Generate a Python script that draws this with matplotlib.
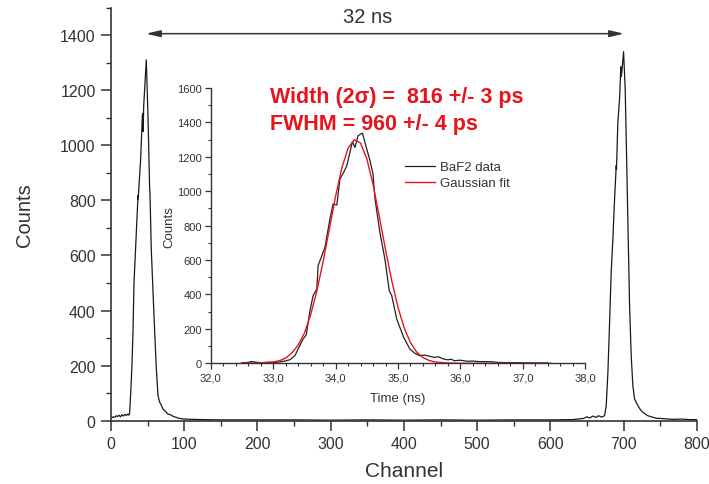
import matplotlib
matplotlib.use("Agg")
import matplotlib.pyplot as plt
from matplotlib.ticker import MultipleLocator, FuncFormatter

plt.rcParams["font.family"] = ["Liberation Sans", "DejaVu Sans"]

INK = "#333333"
TRACE = "#1a1a1a"
RED = "#E8141C"

# ---- main spectrum (channel, counts) ----
channel = [1, 3, 5, 7, 9, 11, 13, 15, 17, 19, 21, 23, 24.5, 25.5, 26.5, 27.8, 28.7, 30,
           31.4, 34.6, 36.9, 37.1, 40.5, 42.8, 43.6, 43.9, 44.6, 48.2, 50.5, 52.8, 53.2,
           55, 58.7, 61.9, 64.2, 66.5, 69, 71, 74, 77.8, 81, 84.7, 89, 93.8, 100.6, 110,
           125, 150, 200, 250, 300, 350, 400, 450, 500, 550, 600, 630, 645, 650, 654,
           658, 662, 666, 670, 674, 676.3, 678.6, 680.9, 683.1, 685.4, 687.7, 690, 690.3,
           692.2, 694.5, 696.3, 696.7, 697.5, 700, 702.2, 704.1, 705.9, 708.2, 710.4,
           712.7, 715, 719.6, 723, 726.4, 733.2, 738, 744.6, 752, 760.5, 770, 778.7, 790, 800]
counts = [10, 14, 12, 18, 15, 20, 14, 22, 17, 23, 19, 24, 20, 28, 80, 150, 210, 320,
          500, 684, 817, 805, 950, 1107, 1115, 1050, 1140, 1310, 1107, 841, 828,
          623, 381, 188, 91, 67, 55, 42, 35, 24, 22, 16, 12, 8, 6, 5,
          4, 3, 3, 3, 2, 3, 2, 3, 2, 3, 3, 4, 8, 14, 10,
          17, 12, 18, 13, 18, 54, 176, 357, 539, 660, 805, 926, 912,
          1083, 1168, 1285, 1250, 1262, 1340, 1204, 962, 720, 417, 236,
          127, 79, 54, 40, 30, 18, 14, 9, 8, 6, 5, 6, 4, 4]

# ---- inset: BaF2 data (time in ns, counts) ----
t_data = [32.5, 32.6, 32.65, 32.7, 32.8, 32.9, 33.0, 33.1, 33.2, 33.27, 33.35, 33.40,
          33.48, 33.53, 33.59, 33.64, 33.70, 33.72, 33.80, 33.83, 33.91, 33.96, 34.02,
          34.07, 34.13, 34.18, 34.23, 34.27, 34.31, 34.36, 34.43, 34.50, 34.55, 34.60,
          34.63, 34.71, 34.79, 34.86, 34.90, 34.98, 35.09, 35.19, 35.27, 35.35, 35.42,
          35.51, 35.58, 35.65, 35.72, 35.80, 35.85, 35.90, 36.0, 36.1, 36.2, 36.3, 36.5,
          36.6, 36.8, 37.0, 37.2, 37.4]
c_data = [3, 5, 10, 8, 3, 6, 4, 8, 14, 21, 45, 83,
          141, 165, 306, 393, 432, 567, 645, 674, 839, 926, 920,
          1071, 1110, 1148, 1226, 1288, 1255, 1323, 1338, 1245, 1180, 1100,
          960, 761, 606, 422, 393, 257, 151, 83, 58, 44, 48,
          41, 34, 38, 26, 20, 24, 15, 18, 12, 13, 10, 9,
          5, 4, 3, 2, 2]

# ---- inset: Gaussian fit ----
t_fit = [32.5, 32.8, 33.0, 33.1, 33.2, 33.3, 33.4, 33.5, 33.6, 33.7, 33.8, 33.9, 34.0,
         34.1, 34.2, 34.3, 34.4, 34.5, 34.6, 34.7, 34.8, 34.9, 35.0, 35.1, 35.2, 35.3,
         35.4, 35.5, 35.6, 35.8, 36.0, 37.45]
c_fit = [0, 2, 8, 15, 30, 60, 105, 175, 280, 420, 590, 780, 970,
         1135, 1250, 1300, 1280, 1190, 1040, 855, 660, 480, 325, 205, 120, 65,
         33, 16, 7, 2, 0, 0]

fig = plt.figure(figsize=(7.09, 4.85), dpi=100)

# --- main axes
ax = fig.add_axes([111 / 709, 1 - 421.7 / 485, 585.8 / 709, 413.2 / 485])
ax.plot(channel, counts, color=TRACE, linewidth=0.9)
ax.set_xlim(0, 800)
ax.set_ylim(0, 1500)
ax.xaxis.set_major_locator(MultipleLocator(100))
ax.xaxis.set_minor_locator(MultipleLocator(50))
ax.yaxis.set_major_locator(MultipleLocator(200))
ax.yaxis.set_minor_locator(MultipleLocator(100))
ax.set_yticks(range(0, 1401, 200))
ax.set_xlabel("Channel", fontsize=15, color=INK, labelpad=7)
ax.set_ylabel("Counts", fontsize=14.5, color=INK, labelpad=19)
for s in ("top", "right"):
    ax.spines[s].set_visible(False)
for s in ("left", "bottom"):
    ax.spines[s].set_color(INK)
    ax.spines[s].set_linewidth(1.2)
ax.tick_params(which="major", direction="out", length=7, width=1.1, color=INK,
               labelsize=11.5, labelcolor=INK, pad=4)
ax.tick_params(which="minor", direction="out", length=3.6, width=1.0, color=INK)

ax.annotate("", xy=(47.8, 1405), xytext=(700.5, 1405),
            arrowprops=dict(arrowstyle="<|-|>,head_length=0.85,head_width=0.2",
                            color=INK, linewidth=1.1, shrinkA=0, shrinkB=0))
ax.text(351, 1468, "32 ns", ha="center", va="center", fontsize=14.5, color=INK)

# --- inset axes
ins = fig.add_axes([210.7 / 709, 1 - 364.3 / 485, 374.6 / 709, 275.3 / 485])
ins.plot(t_data, c_data, color="#222222", linewidth=0.9, label="BaF2 data")
ins.plot(t_fit, c_fit, color=RED, linewidth=1.0, label="Gaussian fit")
ins.set_xlim(32, 38)
ins.set_ylim(0, 1600)
ins.xaxis.set_major_locator(MultipleLocator(1))
ins.xaxis.set_minor_locator(MultipleLocator(0.2))
ins.yaxis.set_major_locator(MultipleLocator(200))
ins.yaxis.set_minor_locator(MultipleLocator(100))
ins.xaxis.set_major_formatter(FuncFormatter(lambda v, p: f"{v:.1f}".replace(".", ",")))
ins.set_xlabel("Time (ns)", fontsize=9.5, color=INK, labelpad=7)
ins.set_ylabel("Counts", fontsize=9.5, color=INK, labelpad=1)
for s in ("top", "right"):
    ins.spines[s].set_visible(False)
for s in ("left", "bottom"):
    ins.spines[s].set_color(INK)
    ins.spines[s].set_linewidth(1.0)
ins.tick_params(which="major", direction="out", length=4, width=0.9, color=INK,
                labelsize=8, labelcolor=INK, pad=2.5)
ins.tick_params(which="minor", direction="out", length=2.5, width=0.8, color=INK)
leg = ins.legend(loc="upper left", bbox_to_anchor=(0.52, 0.735), frameon=False,
                 fontsize=9.5, handlelength=2.25, handletextpad=0.36,
                 labelspacing=0.3, borderpad=0, borderaxespad=0)
for txt in leg.get_texts():
    txt.set_color(INK)

fig.text(270 / 709, 1 - 103.3 / 485, "Width (2\u03c3) =  816 +/- 3 ps",
         color=RED, fontsize=15.5, fontweight="bold", va="baseline")
fig.text(270 / 709, 1 - 130 / 485, "FWHM = 960 +/- 4 ps",
         color=RED, fontsize=15.5, fontweight="bold", va="baseline")

fig.savefig("out.png", dpi=100)
